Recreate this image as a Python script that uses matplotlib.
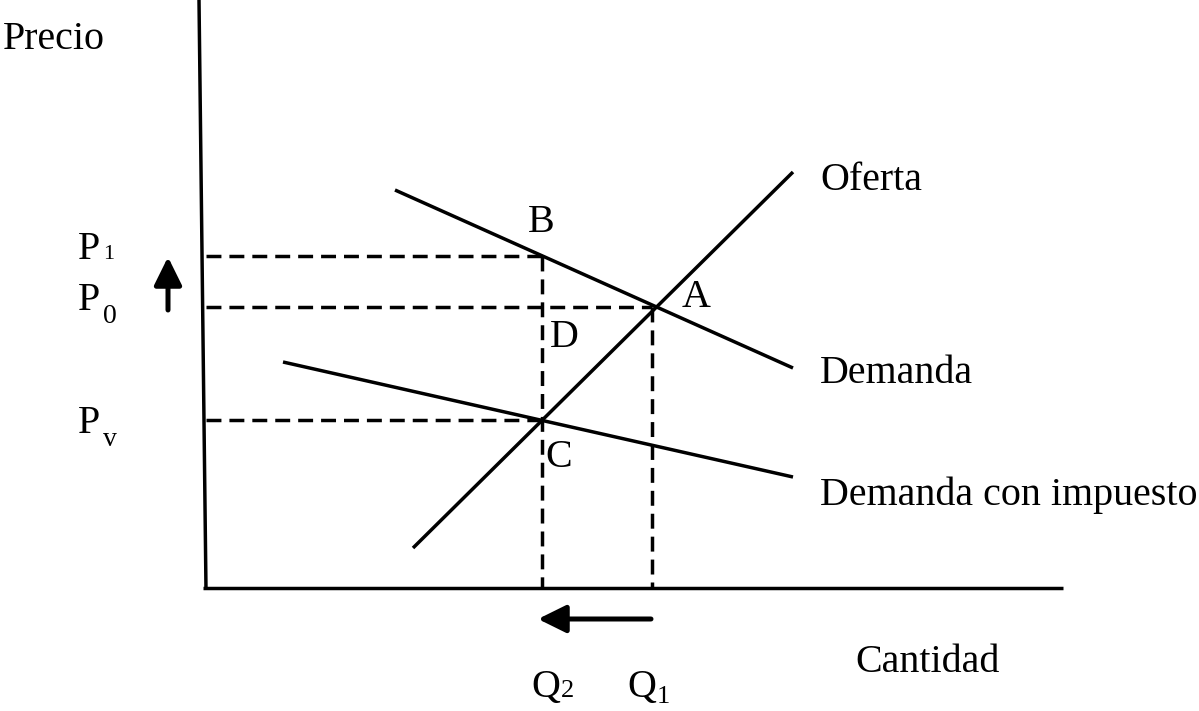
import matplotlib
matplotlib.use("Agg")
import matplotlib.pyplot as plt

plt.rcParams['font.family'] = ['Liberation Serif', 'DejaVu Serif']

# coordinates: quantity / price, origin at the corner of the axes
Q_AXIS = [(-7, 588), (0, -2)]
P_AXIS = [(-3, 0), (857, 0)]

OFERTA = [(207, 40), (587, 416)]
DEMANDA = [(189, 398), (587, 220)]
DEMANDA_IMP = [(77, 226), (587, 111)]

P1, P0, PV = 332, 281, 168
Q1, Q2 = 446, 336

LW = 2.5
DASH = (4.3, 2.3)

FS = 28.8


def seg(ax, pts, **kw):
    xs = [p[0] for p in pts]
    ys = [p[1] for p in pts]
    ax.plot(xs, ys, color='black', lw=LW, solid_capstyle='butt', **kw)


def dash(ax, xs, ys):
    ax.plot(xs, ys, color='black', lw=LW, linestyle=(0, DASH), dash_capstyle='butt')


fig = plt.figure(figsize=(11.99, 7.11), dpi=100)
ax = fig.add_axes([0, 0, 1, 1])
ax.set_xlim(-206, 993)
ax.set_ylim(-123, 588)
ax.axis('off')

# axes
seg(ax, Q_AXIS)
seg(ax, P_AXIS)

# dashed guides
dash(ax, [0, Q2], [P1, P1])
dash(ax, [0, Q1], [P0, P0])
dash(ax, [0, Q2], [PV, PV])
dash(ax, [Q2, Q2], [P1, 0])
dash(ax, [Q1, Q1], [P0, 0])

# curves
seg(ax, OFERTA)
seg(ax, DEMANDA)
seg(ax, DEMANDA_IMP)

# arrows
arrow = dict(arrowstyle='-|>,head_length=0.85,head_width=0.42', lw=3.6,
             color='black', mutation_scale=20, shrinkA=0, shrinkB=0)
ax.annotate('', xy=(-38, 331), xytext=(-38, 278), arrowprops=arrow)
ax.annotate('', xy=(332, -31), xytext=(445, -31), arrowprops=arrow)

# labels
def txt(x, y, s, size=FS):
    ax.text(x, y, s, fontsize=size, ha='left', va='baseline')

txt(-203, 539, 'Precio')
txt(649, -84, 'Cantidad')
txt(614, 398, 'Oferta')
txt(614, 205, 'Demanda')
txt(614, 83, 'Demanda con impuesto')

txt(322, 356, 'B')
txt(476, 281, 'A')
txt(344, 241, 'D')
txt(339, 121, 'C')

txt(-128, 329, 'P')
txt(-103, 329, '1', size=16)
txt(-128, 278, 'P')
txt(-103, 265, '0', size=20)
txt(-128, 155, 'P')
txt(-103, 142, 'v', size=20)

txt(325, -109, 'Q')
txt(355, -109, '2', size=19)
txt(421, -109, 'Q')
txt(451, -115, '1', size=19)

fig.savefig('out.png', dpi=100)
